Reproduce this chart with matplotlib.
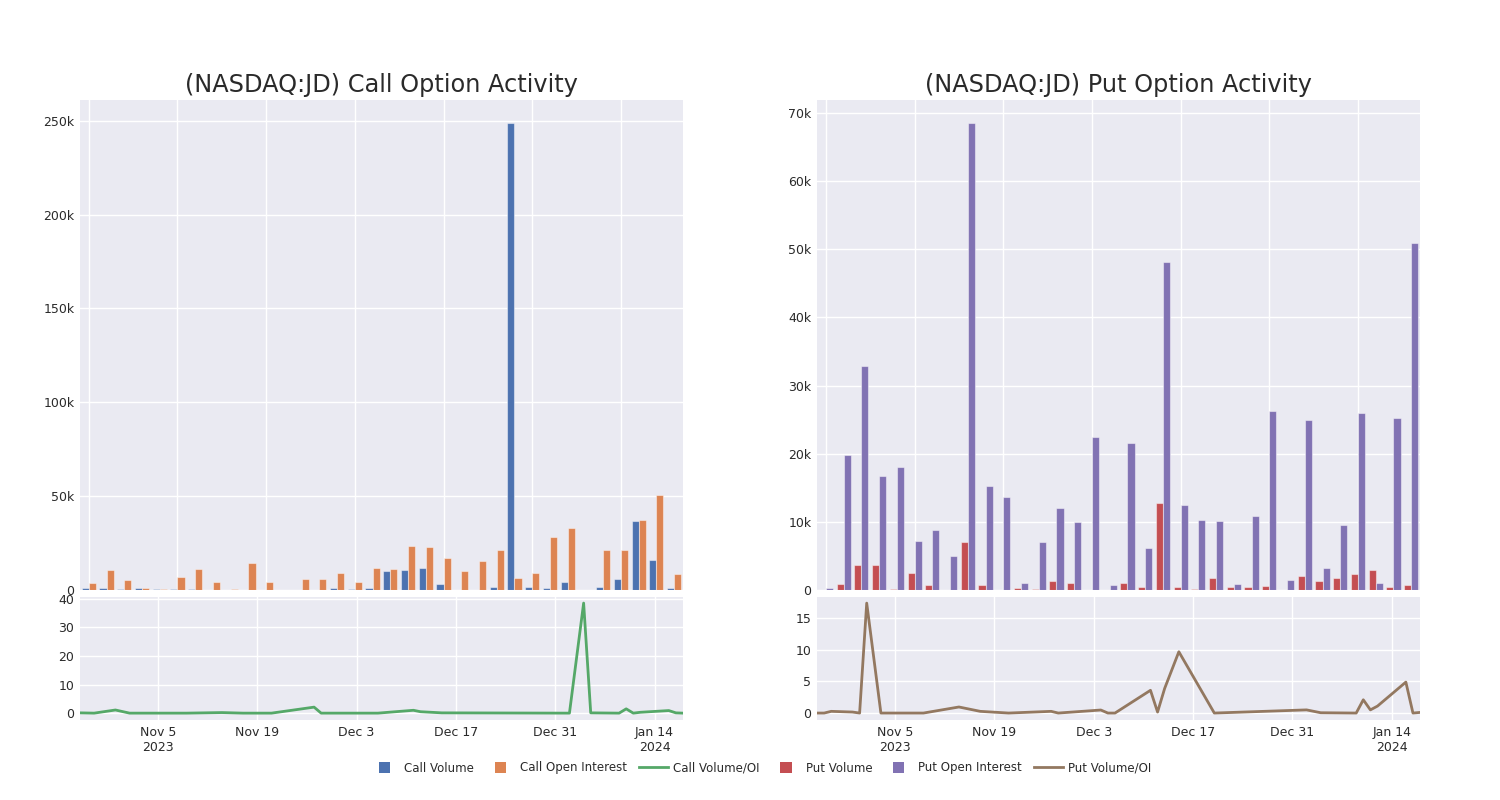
import matplotlib
matplotlib.use("Agg")
import matplotlib.pyplot as plt
from matplotlib.patches import Patch, Rectangle
from matplotlib.lines import Line2D
from matplotlib.legend_handler import HandlerPatch
from matplotlib.ticker import FuncFormatter, FixedLocator
import numpy as np
import pandas as pd

plt.rcParams['font.family'] = ['DejaVu Sans']

# ---------------- data ----------------
categories = list(range(34))

call_volume = [0.9, 1.0, 0.3, 1.2, 0.3, 0.3, 0.3, 0.1, 0.1, 0.2, 0.0, 0.15, 0.15, 0.1,
               1.2, 0.5, 1.0, 10.1, 10.5, 11.5, 3.4, 0.1, 0.1, 1.6, 248.6, 1.6, 1.0,
               4.3, 0.1, 1.4, 5.9, 36.6, 16.0, 1.0]
call_oi = [3.9, 10.5, 5.3, 0.9, 0.5, 6.7, 11.2, 4.3, 0.7, 14.4, 4.1, 0.0, 5.7, 5.7,
           9.0, 4.4, 11.5, 11.0, 23.3, 22.7, 17.2, 10.0, 15.3, 21.5, 6.2, 8.9, 28.4,
           33.0, 0.1, 21.3, 21.1, 37.5, 50.5, 8.4]
put_volume = [0.0, 0.9, 3.6, 3.6, 0.2, 2.5, 0.7, 0.05, 7.1, 0.8, 0.0, 0.25, 0.15, 1.3,
              1.1, 0.05, 0.0, 1.0, 0.5, 12.8, 0.4, 0.15, 1.8, 0.5, 0.5, 0.6, 0.05,
              2.1, 1.3, 1.7, 2.3, 2.9, 0.4, 0.8]
put_oi = [0.3, 19.8, 32.9, 16.8, 18.1, 7.2, 8.8, 5.0, 68.5, 15.2, 13.7, 1.0, 7.0, 12.1,
          10.0, 22.5, 0.7, 21.6, 6.2, 48.1, 12.5, 10.3, 10.1, 0.9, 10.8, 26.2, 1.5,
          24.9, 3.2, 9.6, 26.0, 1.1, 25.3, 50.9]

call_ratio_dates = ["2023-10-25", "2023-10-27", "2023-10-30", "2023-11-01", "2023-11-09",
                    "2023-11-14", "2023-11-17", "2023-11-21", "2023-11-27", "2023-11-28",
                    "2023-12-06", "2023-12-11", "2023-12-12", "2023-12-15", "2024-01-02",
                    "2024-01-04", "2024-01-05", "2024-01-09", "2024-01-10", "2024-01-11",
                    "2024-01-12", "2024-01-16", "2024-01-17", "2024-01-18"]
call_ratio = [0.1, 0.0, 1.1, 0.0, 0.0, 0.2, 0.0, 0.0, 2.1, 0.0,
              0.0, 1.0, 0.5, 0.1, 0.0, 38.5, 0.1, 0.0, 1.5, 0.0,
              0.3, 0.9, 0.1, 0.0]

put_ratio_dates = ["2023-10-25", "2023-10-26", "2023-10-27", "2023-10-30", "2023-10-31",
                   "2023-11-01", "2023-11-03", "2023-11-09", "2023-11-14", "2023-11-17",
                   "2023-11-21", "2023-11-27", "2023-11-28", "2023-12-04", "2023-12-05",
                   "2023-12-06", "2023-12-11", "2023-12-12", "2023-12-13", "2023-12-15",
                   "2023-12-20", "2024-01-02", "2024-01-04", "2024-01-09", "2024-01-10",
                   "2024-01-11", "2024-01-12", "2024-01-16", "2024-01-17", "2024-01-18"]
put_ratio = [0.0, 0.0, 0.27, 0.16, 0.0, 17.4, 0.0, 0.0, 0.96, 0.27,
             0.0, 0.27, 0.0, 0.48, 0.0, 0.0, 3.6, 0.16, 3.9, 9.7,
             0.0, 0.5, 0.05, 0.0, 2.1, 0.5, 1.1, 4.9, 0.0, 0.1]

date_ticks = ["2023-11-05", "2023-11-19", "2023-12-03", "2023-12-17", "2023-12-31", "2024-01-14"]
date_tick_labels = ["Nov 5\n2023", "Nov 19", "Dec 3", "Dec 17", "Dec 31", "Jan 14\n2024"]

# ---------------- style ----------------
BG = "#eaeaf2"
C_CV, C_COI, C_CR = "#4c72b0", "#dd8452", "#55a868"
C_PV, C_POI, C_PR = "#c44e52", "#8172b3", "#937860"
TXT = "#2a2a2a"

fig = plt.figure(figsize=(15, 8), dpi=100)

def style_axes(ax):
    ax.set_facecolor(BG)
    for s in ax.spines.values():
        s.set_visible(False)
    ax.grid(True, color="white", linewidth=1.0)
    ax.set_axisbelow(True)
    ax.tick_params(length=0, labelsize=9, colors=TXT, pad=4)

def kfmt(v, pos):
    return "0" if v == 0 else f"{int(round(v / 1000))}k"

def bar_panel(left, vol, oi, cvol, coi, ymax, ystep, title):
    ax = fig.add_axes([left, 0.2625, 0.402, 0.6125])
    style_axes(ax)
    x = np.array(categories, dtype=float)
    ax.bar(x - 0.2, np.array(vol) * 1000, width=0.4, color=cvol,
           edgecolor=(1, 1, 1, 0.45), linewidth=0.8)
    ax.bar(x + 0.2, np.array(oi) * 1000, width=0.4, color=coi,
           edgecolor=(1, 1, 1, 0.45), linewidth=0.8)
    ax.set_xlim(-0.5, len(categories) - 0.5)
    ax.set_ylim(0, ymax)
    ax.xaxis.set_major_locator(FixedLocator(list(range(0, len(categories), 5))))
    ax.set_xticklabels([])
    ax.yaxis.set_major_locator(FixedLocator(np.arange(0, ymax, ystep)))
    ax.yaxis.set_major_formatter(FuncFormatter(kfmt))
    ax.set_title(title, fontsize=17.3, color=TXT, pad=6)
    return ax

def line_panel(left, dates, vals, color, ylim, yticks):
    ax = fig.add_axes([left, 0.1, 0.402, 0.154])
    style_axes(ax)
    d = pd.to_datetime(dates)
    ax.plot(d, vals, color=color, linewidth=2)
    ax.set_xlim(pd.Timestamp("2023-10-25"), pd.Timestamp("2024-01-18"))
    ax.set_ylim(*ylim)
    ax.set_yticks(yticks)
    ax.set_xticks(pd.to_datetime(date_ticks))
    ax.set_xticklabels(date_tick_labels)
    return ax

bar_panel(0.0533, call_volume, call_oi, C_CV, C_COI, 261000, 50000,
          "(NASDAQ:JD) Call Option Activity")
bar_panel(0.5447, put_volume, put_oi, C_PV, C_POI, 71900, 10000,
          "(NASDAQ:JD) Put Option Activity")
line_panel(0.0533, call_ratio_dates, call_ratio, C_CR, (-2.4, 40.7), [0, 10, 20, 30, 40])
line_panel(0.5447, put_ratio_dates, put_ratio, C_PR, (-1.1, 18.4), [0, 5, 10, 15])


class SquareHandler(HandlerPatch):
    def create_artists(self, legend, orig_handle, xdescent, ydescent,
                       width, height, fontsize, trans):
        s = 8.0
        cx = -xdescent + width / 2.0
        cy = -ydescent + height / 2.0
        p = Rectangle((cx - s / 2, cy - s / 2), s, s,
                      facecolor=orig_handle.get_facecolor(), edgecolor="none",
                      transform=trans)
        return [p]


handles = [
    Patch(facecolor=C_CV, label="Call Volume"),
    Patch(facecolor=C_COI, label="Call Open Interest"),
    Line2D([0], [0], color=C_CR, lw=2, label="Call Volume/OI"),
    Patch(facecolor=C_PV, label="Put Volume"),
    Patch(facecolor=C_POI, label="Put Open Interest"),
    Line2D([0], [0], color=C_PR, lw=2, label="Put Volume/OI"),
]
fig.legend(handles=handles, loc="center", bbox_to_anchor=(0.507, 0.04), ncol=6,
           frameon=False, fontsize=8.5, handlelength=2.5, handleheight=1.0,
           columnspacing=1.0, handletextpad=0.4, labelcolor=TXT,
           handler_map={Patch: SquareHandler()})

fig.savefig("out.png", dpi=100, facecolor="white")
